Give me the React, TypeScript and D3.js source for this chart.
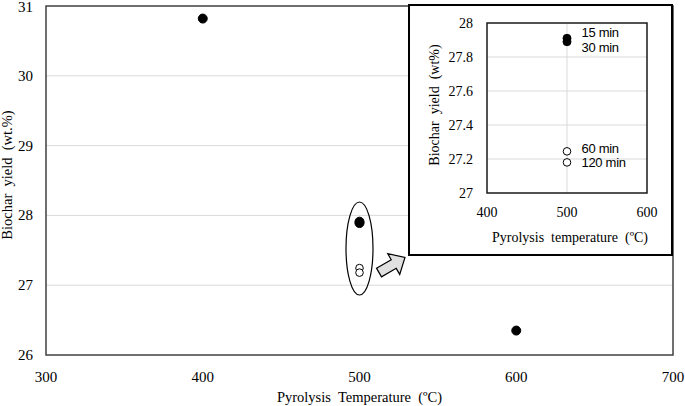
import React from 'react';
import * as d3 from 'd3';

// main chart data
const temps = [400, 500, 500, 500, 500, 600];
const yields = [30.82, 27.91, 27.89, 27.245, 27.18, 26.35];
const filled = [true, true, true, false, false, true];
const xTicks = [300, 400, 500, 600, 700];
const yTicks = [26, 27, 28, 29, 30, 31];

// inset data (500 °C, residence time)
const insetTimes = ['15 min', '30 min', '60 min', '120 min'];
const insetYields = [27.91, 27.89, 27.245, 27.18];
const insetFilled = [true, true, false, false];
const insetXTicks = [400, 500, 600];
const insetYTicks = [27, 27.2, 27.4, 27.6, 27.8, 28];

const serif = '"Liberation Serif", "Times New Roman", serif';
const sans = '"Liberation Sans", Arial, sans-serif';

export default function App() {
  const W = 685;
  const H = 406;
  const m = { left: 46, right: 673, top: 6, bottom: 355 };

  const x = d3.scaleLinear().domain([300, 700]).range([m.left, m.right]);
  const y = d3.scaleLinear().domain([26, 31]).range([m.bottom, m.top]);

  const box = { left: 409, right: 672, top: 5, bottom: 255 };
  const ip = { left: 487, right: 647, top: 23, bottom: 193 };
  const ix = d3.scaleLinear().domain([400, 600]).range([ip.left, ip.right]);
  const iy = d3.scaleLinear().domain([27, 28]).range([ip.bottom, ip.top]);

  const labelDy = [-1, 10, 2, 5];

  const arrow = [[0, -5], [17, -5], [17, -12], [30, 0], [17, 12], [17, 5], [0, 5]];

  return (
    <svg width={W} height={H} style={{ position: 'absolute', left: 0, top: 0, background: '#fff' }}>
      {/* main grid */}
      {yTicks.filter(t => t > 26 && t < 31).map(t => (
        <line key={t} x1={m.left} x2={m.right} y1={y(t)} y2={y(t)} stroke="#d9d9d9" strokeWidth={1} />
      ))}
      <rect x={m.left} y={m.top} width={m.right - m.left} height={m.bottom - m.top}
        fill="none" stroke="#404040" strokeWidth={1.5} />

      {yTicks.map(t => (
        <text key={t} x={33} y={Math.max(y(t) + 5, 12)} textAnchor="end" fontFamily={serif} fontSize={15} fill="#000">{t}</text>
      ))}
      {xTicks.map(t => (
        <text key={t} x={x(t)} y={382} textAnchor="middle" fontFamily={serif} fontSize={15} fill="#000">{t}</text>
      ))}
      <text x={x(500)} y={402} textAnchor="middle" fontFamily={serif} fontSize={14.5} fill="#000"
        style={{ whiteSpace: 'pre' }}>{'Pyrolysis  Temperature  (ºC)'}</text>
      <text transform="translate(12,175) rotate(-90)" textAnchor="middle" fontFamily={serif} fontSize={14.5}
        fill="#000" style={{ whiteSpace: 'pre' }}>{'Biochar  yield  (wt.%)'}</text>

      {/* main points */}
      {temps.map((t, i) => (
        <circle key={i} cx={x(t)} cy={y(yields[i])} r={filled[i] ? 4.5 : 3.8}
          fill={filled[i] ? '#000' : '#fff'} stroke="#000" strokeWidth={1} />
      ))}

      {/* highlight ellipse and arrow */}
      <ellipse cx={x(500)} cy={248.5} rx={13.5} ry={46.5} fill="none" stroke="#000" strokeWidth={1.2} />
      <polygon points={arrow.map(p => p.join(',')).join(' ')} transform="translate(379,272.5) rotate(-30)"
        fill="#e0e0e0" stroke="#000" strokeWidth={1.2} strokeLinejoin="miter" />

      {/* inset */}
      <rect x={box.left} y={box.top} width={box.right - box.left} height={box.bottom - box.top}
        fill="#fff" stroke="#000" strokeWidth={2} />
      {insetYTicks.filter(t => t > 27 && t < 28).map(t => (
        <line key={t} x1={ip.left} x2={ip.right} y1={iy(t)} y2={iy(t)} stroke="#d9d9d9" strokeWidth={1} />
      ))}
      <line x1={ix(500)} x2={ix(500)} y1={ip.top} y2={ip.bottom} stroke="#d9d9d9" strokeWidth={1} />
      <rect x={ip.left} y={ip.top} width={ip.right - ip.left} height={ip.bottom - ip.top}
        fill="none" stroke="#1a1a1a" strokeWidth={1.5} />
      {insetYTicks.map(t => (
        <text key={t} x={473} y={iy(t) + 5} textAnchor="end" fontFamily={serif} fontSize={14} fill="#000">
          {t === 27 || t === 28 ? t : t.toFixed(1)}
        </text>
      ))}
      {insetXTicks.map(t => (
        <text key={t} x={ix(t)} y={217} textAnchor="middle" fontFamily={serif} fontSize={14} fill="#000">{t}</text>
      ))}
      <text x={570} y={242} textAnchor="middle" fontFamily={serif} fontSize={14} fill="#000"
        style={{ whiteSpace: 'pre' }}>{'Pyrolysis  temperature  (ºC)'}</text>
      <text transform="translate(439,105) rotate(-90)" textAnchor="middle" fontFamily={serif} fontSize={14}
        fill="#000" style={{ whiteSpace: 'pre' }}>{'Biochar  yield  (wt%)'}</text>

      {insetYields.map((v, i) => (
        <circle key={i} cx={ix(500)} cy={iy(v)} r={insetFilled[i] ? 4 : 3.8}
          fill={insetFilled[i] ? '#000' : '#fff'} stroke="#000" strokeWidth={1} />
      ))}
      {insetTimes.map((lab, i) => (
        <text key={lab} x={581.5} y={iy(insetYields[i]) + labelDy[i]} fontFamily={sans} fontSize={13}
          letterSpacing={-0.3} fill="#000">{lab}</text>
      ))}
    </svg>
  );
}
